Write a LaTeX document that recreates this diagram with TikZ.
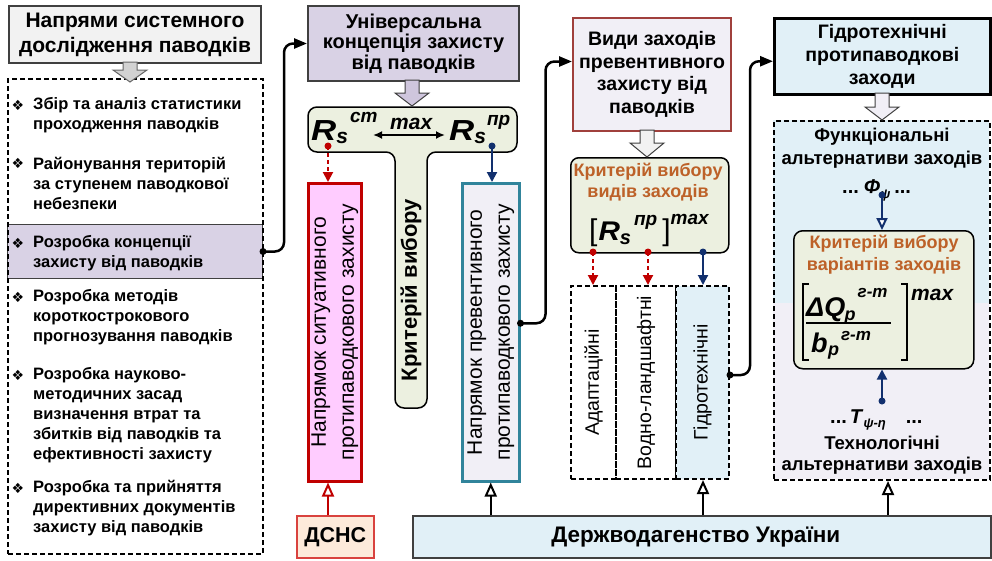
\documentclass[tikz,border=0pt]{standalone}
\usepackage{graphicx}
\usepackage{fontspec}
\setmainfont{Liberation Sans}
\newfontfamily\dejavu{DejaVu Sans}
\usetikzlibrary{arrows.meta,calc}
\definecolor{titlefill}{HTML}{F2F2F2}
\definecolor{lav}{HTML}{D9D2E5}
\definecolor{lavarr}{HTML}{CFC6DD}
\definecolor{lavlight}{HTML}{F1EFF6}
\definecolor{pinkf}{HTML}{FFCCFF}
\definecolor{redc}{HTML}{C00000}
\definecolor{teal}{HTML}{31849B}
\definecolor{dsnsf}{HTML}{FDEADA}
\definecolor{dsnsd}{HTML}{D9423E}
\definecolor{lblue}{HTML}{E1F0F7}
\definecolor{vidyd}{HTML}{A0403C}
\definecolor{olive}{HTML}{ECF0E0}
\definecolor{orangec}{HTML}{BD6128}
\definecolor{navy}{HTML}{12306E}
\definecolor{grayd}{HTML}{404040}
\newcommand\fs[2]{\fontsize{#1}{#2}\selectfont}
\newcommand\bi[1]{\textbf{\textit{#1}}}
\newcommand\blockarr[5]{%
  \draw[#5] (#1-7,#2) -- (#1+7,#2) -- (#1+7,#3) -- (#1+17,#3) -- (#1,#4) -- (#1-17,#3) -- (#1-7,#3) -- cycle;}
\tikzset{
  box/.style={draw, anchor=north west, inner sep=0, align=center, font=\bfseries},
  dashbox/.style={draw=black, line width=2pt, dash pattern=on 5pt off 3pt, anchor=north west, inner sep=0},
  conn/.style={line width=2.5pt, rounded corners=9pt, -{Triangle[length=13pt,width=10pt]}},
  redarr/.style={draw=redc, line width=2pt, dash pattern=on 4pt off 3pt, -{Triangle[length=10pt,width=10pt,fill=redc]}},
  bluearr/.style={draw=navy, line width=2pt, -{Triangle[length=10pt,width=10pt,fill=navy]}},
  openarr/.style={line width=2pt, -{Triangle[open,length=14pt,width=12pt,fill=white]}},
  itm/.style={anchor=west, align=left, inner sep=0, font=\fs{16.5}{20}\bfseries},
  bul/.style={inner sep=0, font=\dejavu\fs{14}{14}},
  rtxt/.style={rotate=90, align=center, inner sep=0},
  txt/.style={align=center, inner sep=0},
  fm/.style={inner sep=0, anchor=base west},
}
\begin{document}
\begin{tikzpicture}[x=1pt,y=-1pt]
\useasboundingbox (0,0) rectangle (992,560);
% ---- left column
\node[box, fill=titlefill, draw=grayd, line width=2pt, minimum width=252, minimum height=57, font=\fs{21}{25}\bfseries] (title) at (8,5) {Напрями системного\\дослідження паводків};
\node[box, fill=lav, draw=grayd, line width=1pt, minimum width=255, minimum height=54] (hl) at (7,224) {};
\node[dashbox, minimum width=255, minimum height=475] (listbox) at (7,78) {};
\blockarr{130}{62}{70}{82}{fill=gray!35, draw=gray!80!black, line width=1pt}
\node[bul] (b1) at (18,105) {❖};
\node[itm] (i1) at (33,115) {Збір та аналіз статистики\\проходження паводків};
\node[bul] (b2) at (18,163) {❖};
\node[itm] (i2) at (33,183) {Районування територій\\за ступенем паводкової\\небезпеки};
\node[bul] (b3) at (18,243) {❖};
\node[itm] (i3) at (33,253) {Розробка концепції\\захисту від паводків};
\node[bul] (b4) at (18,297) {❖};
\node[itm] (i4) at (33,317) {Розробка методів\\короткострокового\\прогнозування паводків};
\node[bul] (b5) at (18,375) {❖};
\node[itm] (i5) at (33,415) {Розробка науково-\\методичних засад\\визначення втрат та\\збитків від паводків та\\ефективності захисту};
\node[bul] (b6) at (18,488) {❖};
\node[itm] (i6) at (33,508) {Розробка та прийняття\\директивних документів\\захисту від паводків};
% ---- universal concept
\node[box, fill=lav, draw=grayd, line width=2pt, minimum width=211, minimum height=75, font=\fs{20}{20.5}\bfseries] (univ) at (307,5) {Універсальна\\концепція захисту\\від паводків};
\draw[fill=olive, draw=black, line width=1.5pt, rounded corners=9pt] (412,107) -- (517,107) -- (517,152) -- (427,152) -- (427,408) -- (395,408) -- (395,152) -- (308,152) -- (308,107) -- cycle;
\blockarr{412}{80}{93}{106}{fill=lavarr, draw=grayd, line width=1pt}
\node[fm, font=\fs{29}{29}] (rcm) at (311,140) {\scalebox{1.2}[1]{\bi{R}}\raisebox{-3pt}{\fs{21}{21}\bi{s}}\hspace{2pt}\raisebox{18pt}{\fs{19}{19}\bi{cm}}};
\node[fm, font=\fs{29}{29}] (rpr) at (449,140) {\scalebox{1.2}[1]{\bi{R}}\raisebox{-3pt}{\fs{21}{21}\bi{s}}\hspace{1pt}\raisebox{15pt}{\fs{19}{19}\bi{пр}}};
\coordinate (ma) at (373,135);
\coordinate (mb) at (445,135);
\draw[line width=2pt, {Latex[length=9pt,width=8pt]}-{Latex[length=9pt,width=8pt]}] (ma) -- (mb);
\node[fm, font=\fs{21}{21}] (maxt) at (390,129) {\bi{max}};
\node[rtxt, font=\fs{22}{22}\bfseries] (kv) at (411,290) {Критерій вибору};
\node[box, fill=pinkf, draw=redc, line width=2.5pt, minimum width=53, minimum height=298] (pink) at (307,182) {};
\node[rtxt, font=\fs{21}{28}] (pinkt) at (pink.center) {Напрямок ситуативного\\протипаводкового захисту};
\node[box, fill=lavlight, draw=teal, line width=2.5pt, minimum width=57, minimum height=298] (prev) at (461,182) {};
\node[rtxt, font=\fs{21}{28}] (prevt) at (prev.center) {Напрямок превентивного\\протипаводкового захисту};
\coordinate (dR) at (328,146);
\coordinate (dB) at (492,146);
\draw[redarr] (dR) -- (dR |- pink.north);
\fill[redc] (dR) circle (3.5);
\draw[bluearr] (dB) -- (dB |- prev.north);
\fill[navy] (dB) circle (3.5);
% ---- bottom agencies
\node[box, fill=dsnsf, draw=dsnsd, line width=1.5pt, minimum width=77, minimum height=42, font=\fs{21.5}{22}\bfseries] (dsns) at (296,515) {ДСНС};
\node[box, fill=lblue, draw=grayd, line width=1.5pt, minimum width=578, minimum height=42, font=\fs{22.5}{23}\bfseries] (derzh) at (412,515) {\hspace*{-12pt}Держводагенство України};
\draw[openarr, draw=redc] (dsns.north -| dR) -- (pink.south -| dR);
% ---- types of measures
\node[box, fill=lavlight, draw=vidyd, line width=2pt, minimum width=158, minimum height=113, font=\fs{19.5}{22.5}\bfseries] (vidy) at (572,17) {Види заходів\\превентивного\\захисту від\\паводків};
\node[box, fill=olive, draw=black, line width=1.5pt, rounded corners=8pt, minimum width=158, minimum height=95] (crit1) at (570,157) {};
\blockarr{647}{130}{143}{157}{fill=titlefill, draw=grayd, line width=1pt}
\node[txt, font=\fs{18}{21.5}\bfseries, text=orangec] (crit1t) at (648,182) {Критерій вибору\\видів заходів};
\node[fm] (form1) at (589,240) {\fs{30}{30}[\hspace{1pt}\fs{27}{27}\scalebox{1.1}[1]{\bi{R}}\raisebox{-4pt}{\fs{20}{20}\bi{s}}\hspace{3pt}\raisebox{15pt}{\fs{19}{19}\bi{пр}}\hspace{5pt}\fs{30}{30}]\raisebox{16pt}{\fs{19}{19}\bi{max}}};
\node[dashbox, minimum width=45, minimum height=193] (c1) at (570,285) {};
\node[dashbox, minimum width=60, minimum height=193] (c2) at (615,285) {};
\node[dashbox, fill=lblue, minimum width=53, minimum height=193] (c3) at (675,285) {};
\node[rtxt, font=\fs{19.5}{19.5}] (c1t) at (c1.center) {Адаптаційні};
\node[rtxt, font=\fs{19.5}{19.5}] (c2t) at (c2.center) {Водно-ландшафтні};
\node[rtxt, font=\fs{19.5}{19.5}] (c3t) at (c3.center) {Гідротехнічні};
\coordinate (e1) at (593,252);
\coordinate (e2) at (648,252);
\coordinate (e3) at (703,252);
\draw[redarr] (e1) -- (e1 |- c1.north);
\draw[redarr] (e2) -- (e2 |- c2.north);
\draw[bluearr] (e3) -- (e3 |- c3.north);
\fill[redc] (e1) circle (3.5);
\fill[redc] (e2) circle (3.5);
\fill[navy] (e3) circle (3.5);
% ---- hydrotechnical
\node[box, fill=lblue, draw=black, line width=2.5pt, minimum width=216, minimum height=76, font=\fs{19.5}{23}\bfseries] (hyd) at (773,17) {Гідротехнічні\\протипаводкові\\заходи};
\fill[lblue] (773,120) rectangle (989,303);
\fill[lavlight] (773,303) rectangle (989,479);
\node[dashbox, minimum width=216, minimum height=359] (rbox) at (773,120) {};
\blockarr{882}{93}{107}{120}{fill=lavlight, draw=grayd, line width=1pt}
\node[txt, font=\fs{18.5}{23}\bfseries] (funt) at (882,148) {Функціональні\\альтернативи заходів};
\node[fm, font=\fs{20}{20}\bfseries] (phi) at (842,193) {...\hspace{5pt}\bi{Φ}\raisebox{-5pt}{\fs{13}{13}\bi{ψ}}\hspace{4pt}...};
\node[box, fill=olive, draw=black, line width=1.5pt, rounded corners=9pt, minimum width=180, minimum height=138] (crit2) at (793,230) {};
\node[txt, font=\fs{18}{22}\bfseries, text=orangec] (crit2t) at (884,255) {Критерій вибору\\варіантів заходів};
% formula: [ dQ / b ]^max
\node[fm, font=\fs{27}{27}] (numq) at (806,316) {\bi{ΔQ}};
\node[fm, font=\fs{18}{18}] (nump) at ([xshift=-1pt,yshift=-4pt]numq.base east) {\bi{p}};
\node[fm, font=\fs{17}{17}] (numg) at ([xshift=12pt,yshift=19pt]numq.base east) {\bi{г-m}};
\node[fm, font=\fs{27}{27}] (denb) at (811,352) {\bi{b}};
\node[fm, font=\fs{18}{18}] (denp) at ([xshift=0pt,yshift=-3pt]denb.base east) {\bi{p}};
\node[fm, font=\fs{17}{17}] (deng) at ([xshift=13pt,yshift=12pt]denb.base east) {\bi{г-m}};
\node[fm, font=\fs{21}{21}] (fmax) at (911,300) {\bi{max}};
\coordinate (brl) at (803,284);
\coordinate (brr) at (907,284);
\draw[line width=1.2pt] ([xshift=6pt]brl) -- (brl) -- ++(0,76) -- ++(6,0);
\draw[line width=1.2pt] ([xshift=-6pt]brr) -- (brr) -- ++(0,76) -- ++(-6,0);
\draw[line width=1.2pt] (numq.base west |- 0,323) -- (891,323);
\coordinate (fp) at (882,195);
\coordinate (tp) at (882,401);
\draw[line width=2pt, draw=navy, -{Triangle[open,length=12pt,width=11pt,fill=white]}] (fp) -- (fp |- crit2.north);
\fill[navy] (fp) circle (3.5);
\draw[bluearr] (tp) -- (tp |- crit2.south);
\fill[navy] (tp) circle (3.5);
\node[fm, font=\fs{20}{20}\bfseries] (tline) at (830,423) {...\hspace{3pt}\bi{T}\raisebox{-4pt}{\fs{13}{13}\bi{ψ-η}}\hspace{20pt}...};
\node[txt, font=\fs{18.5}{21}\bfseries] (techt) at (882,455) {Технологічні\\альтернативи заходів};
% ---- agency arrows
\draw[openarr] (derzh.north -| prev.south) -- (prev.south);
\draw[openarr] (derzh.north -| e3) -- (c3.south -| e3);
\draw[openarr] (derzh.north -| 888,0) -- (rbox.south -| 888,0);
% ---- main connectors
\fill (hl.east) circle (3.5);
\draw[conn] (hl.east) -- ++(21,0) |- (univ.west);
\fill ([yshift=9pt]prev.east) circle (3.5);
\draw[conn] ([yshift=9pt]prev.east) -- ++(25,0) |- ([yshift=13pt]vidy.west);
\fill ([yshift=7.5pt]c3.east) circle (3.5);
\draw[conn] ([yshift=7.5pt]c3.east) -- ++(20,0) |- ([yshift=-5pt]hyd.west);
\end{tikzpicture}
\end{document}
